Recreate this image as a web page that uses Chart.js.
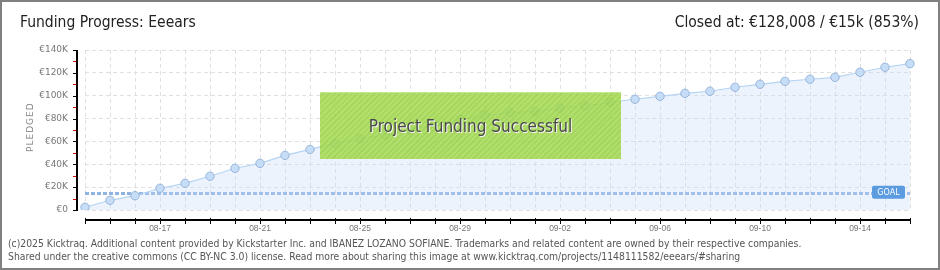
<!DOCTYPE html>
<html>
<head>
<meta charset="utf-8">
<script src="https://cdn.jsdelivr.net/npm/chart.js@4.4.1/dist/chart.umd.min.js"></script>
<style>
  html, body { margin: 0; padding: 0; background: #fff; }
  #frame { position: relative; width: 940px; height: 270px; box-sizing: border-box; border: 2px solid #808080; overflow: hidden; }
  #wrap { position: absolute; left: -2px; top: -2px; width: 940px; height: 270px; }
  .title { position: absolute; top: 11px; font-family: "Liberation Sans Narrow", "DejaVu Sans Condensed", sans-serif; font-size: 15.5px; color: #222; white-space: nowrap; }
  #ytitle { position: absolute; left: 23px; top: 150px; transform: rotate(-90deg); transform-origin: 0 0; font-family: "DejaVu Sans", sans-serif; font-size: 9px; letter-spacing: 1px; color: #888; }
  #success { position: absolute; left: 318px; top: 90px; width: 301px; height: 66px; background: rgba(160, 216, 72, 0.86);
    background-image: repeating-linear-gradient(135deg, rgba(255,255,255,0.06) 0 2px, rgba(0,0,0,0.03) 2px 4px);
    border-top: 1px solid #c2e890; display: flex; align-items: center; justify-content: center;
    font-family: "Liberation Sans Narrow", "DejaVu Sans Condensed", sans-serif; font-size: 17px; color: #4a4a4a; text-shadow: 1px 1px 0 #f4f4f4; }
  #footer { position: absolute; left: 6px; top: 235px; font-family: "DejaVu Sans Condensed", "DejaVu Sans", sans-serif; font-size: 10.3px; line-height: 13px; color: #555; white-space: nowrap; }
</style>
</head>
<body>
<div id="frame">
  <div id="wrap"><canvas id="chart" width="940" height="270"></canvas></div>
  <div class="title" style="left:18px;">Funding Progress: Eeears</div>
  <div class="title" style="right:19px;">Closed at: €128,008 / €15k (853%)</div>
  <div id="ytitle">PLEDGED</div>
  <div id="success">Project Funding Successful</div>
  <div id="footer">(c)2025 Kicktraq. Additional content provided by Kickstarter Inc. and IBANEZ LOZANO SOFIANE. Trademarks and related content are owned by their respective companies.<br>Shared under the creative commons (CC BY-NC 3.0) license. Read more about sharing this image at www.kicktraq.com/projects/1148111582/eeears/#sharing</div>
</div>
<script>
const days = ["08-14","08-15","08-16","08-17","08-18","08-19","08-20","08-21","08-22","08-23","08-24","08-25",
  "08-26","08-27","08-28","08-29","08-30","08-31","09-01","09-02","09-03","09-04","09-05","09-06","09-07",
  "09-08","09-09","09-10","09-11","09-12","09-13","09-14","09-15","09-16"];
const pledged = [2400, 8500, 12500, 19000, 23300, 29500, 36500, 40800, 47800, 53000, 58300, 62400,
  65600, 70000, 75000, 79400, 82900, 85200, 86300, 89300, 91000, 94300, 96900, 99500, 102100,
  103900, 107400, 110000, 112600, 114400, 116100, 120500, 124900, 128008];
const labeledDays = ["08-17","08-21","08-25","08-29","09-02","09-06","09-10","09-14"];
const goal = 15000;
const yMax = 140000;
const yStep = 20000;

const pixelFont = { family: "DejaVu Sans", size: 9 };

// axes sit a bit away from the plot area, so they are drawn here
const axesPlugin = {
  id: "axes",
  beforeDatasetsDraw(chart) {
    const ctx = chart.ctx;
    const area = chart.chartArea;
    const y = chart.scales.y;
    const gy = Math.round(y.getPixelForValue(goal)) + 0.5;
    ctx.save();
    ctx.strokeStyle = "#8fb4e3";
    ctx.lineWidth = 3;
    ctx.setLineDash([4, 2]);
    ctx.beginPath();
    ctx.moveTo(area.left, gy);
    ctx.lineTo(area.right, gy);
    ctx.stroke();
    ctx.restore();
  },
  afterDraw(chart) {
    const ctx = chart.ctx;
    const area = chart.chartArea;
    const x = chart.scales.x;
    const y = chart.scales.y;
    const ax = area.left - 8;
    const ay = area.bottom + 10;
    ctx.save();
    ctx.strokeStyle = "#000";
    ctx.lineWidth = 2;
    ctx.beginPath();
    ctx.moveTo(ax, area.top);
    ctx.lineTo(ax, area.bottom + 1);
    ctx.moveTo(area.left, ay);
    ctx.lineTo(area.right + 1, ay);
    ctx.stroke();

    ctx.lineWidth = 1;
    for (let v = 0; v <= yMax; v += yStep / 2) {
      const py = Math.round(y.getPixelForValue(v)) + 0.5;
      const major = v % yStep === 0;
      ctx.strokeStyle = major ? "#000" : "#e00000";
      ctx.beginPath();
      ctx.moveTo(ax - 4, py);
      ctx.lineTo(major ? ax : ax - 1, py);
      ctx.stroke();
    }
    ctx.strokeStyle = "#000";
    for (let i = 0; i < days.length; i++) {
      const px = Math.round(x.getPixelForValue(i)) + 0.5;
      ctx.beginPath();
      ctx.moveTo(px, ay - 2);
      ctx.lineTo(px, ay + 4);
      ctx.stroke();
    }

    // goal tag
    const gy = y.getPixelForValue(goal);
    const bx = area.right - 38, bw = 33, bh = 13;
    ctx.fillStyle = "#5b9be0";
    ctx.beginPath();
    ctx.roundRect(bx, gy - 7, bw, bh, 2);
    ctx.fill();
    ctx.fillStyle = "#fff";
    ctx.font = "8px DejaVu Sans";
    ctx.textAlign = "center";
    ctx.textBaseline = "middle";
    ctx.fillText("GOAL", bx + bw / 2, gy);
    ctx.restore();
  }
};

new Chart(document.getElementById("chart"), {
  type: "line",
  data: {
    labels: days,
    datasets: [{
      data: pledged,
      borderColor: "#b5d4f4",
      borderWidth: 1.2,
      backgroundColor: "rgba(196, 220, 247, 0.33)",
      fill: "origin",
      tension: 0,
      pointRadius: 4.2,
      pointBackgroundColor: "#c6ddf7",
      pointBorderColor: "#98b4d8",
      pointBorderWidth: 1
    }]
  },
  options: {
    responsive: false,
    animation: false,
    layout: { padding: { left: 0, right: 30, top: 50, bottom: 35 } },
    plugins: { legend: { display: false }, tooltip: { enabled: false } },
    scales: {
      x: {
        offset: false,
        grid: { color: "#e0e0e0", drawTicks: false },
        border: { display: false, dash: [4, 3] },
        ticks: {
          autoSkip: false, maxRotation: 0, padding: 14, color: "#777",
          font: { family: "Liberation Sans", size: 8.5 },
          callback: function (v, i) { return labeledDays.includes(days[i]) ? days[i] : ""; }
        },
        afterFit: function (s) { s.height = 25; }
      },
      y: {
        min: 0, max: yMax,
        grid: { color: "#e0e0e0", drawTicks: false },
        border: { display: false, dash: [4, 3] },
        ticks: {
          stepSize: yStep, padding: 17, color: "#777", font: pixelFont,
          callback: function (v) { return v === 0 ? "€0" : "€" + (v / 1000) + "K"; }
        },
        afterFit: function (s) { s.width = 85; }
      }
    }
  },
  plugins: [axesPlugin]
});
</script>
</body>
</html>
